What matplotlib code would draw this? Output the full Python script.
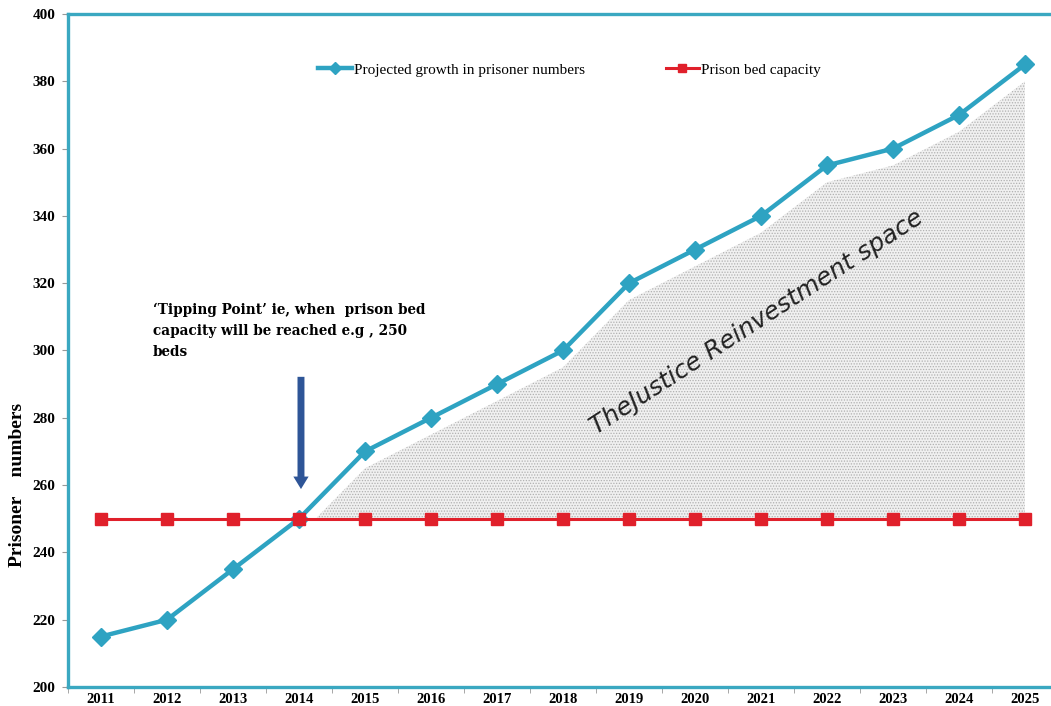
import matplotlib
matplotlib.use("Agg")
import matplotlib.pyplot as plt
import numpy as np

years = ["2011", "2012", "2013", "2014", "2015", "2016", "2017", "2018",
         "2019", "2020", "2021", "2022", "2023", "2024", "2025"]
projected = [215, 220, 235, 250, 270, 280, 290, 300, 320, 330, 340, 355, 360, 370, 385]
capacity = [250] * 15
y_ticks = [200, 220, 240, 260, 280, 300, 320, 340, 360, 380, 400]

W, H = 1051, 706
fig = plt.figure(figsize=(W / 100, H / 100), dpi=100)
ax = fig.add_axes([68 / W, 1 - 687 / H, (1058 - 68) / W, (687 - 14) / H])

x = np.arange(len(years))
teal = "#2ea3c2"
red = "#e0202b"

# shaded "reinvestment space"
xf = np.linspace(0, len(years) - 1, 600)
yf = np.interp(xf, x, projected) - 5
mask = yf >= 250
plt.rcParams['hatch.linewidth'] = 0.6
ax.fill_between(xf, 250, np.maximum(yf, 250), where=mask, facecolor="#f0f0f0",
                edgecolor="#b0b0b0", hatch="......", linewidth=0, zorder=1)

ax.plot(x, projected, color=teal, lw=3.2, marker="D", ms=9, zorder=3,
        label="Projected growth in prisoner numbers")
ax.plot(x, capacity, color=red, lw=2.2, marker="s", ms=8.5, zorder=3,
        label="Prison bed capacity")

ax.set_xlim(-0.5, len(years) - 0.5)
ax.set_ylim(200, 400)
ax.set_yticks(y_ticks)
ax.set_yticklabels([str(v) for v in y_ticks], fontfamily="Liberation Serif",
                   fontweight="bold", fontsize=11)
ax.set_xticks(x)
ax.set_xticklabels(years, fontfamily="Liberation Serif", fontweight="bold", fontsize=10.5)
ax.set_xticks(np.arange(-0.5, len(years), 1), minor=True)
ax.tick_params(axis="x", which="major", length=0, pad=4)
ax.tick_params(axis="x", which="minor", length=4, color="#999999", direction="out")
ax.tick_params(axis="y", length=4, color="#999999", direction="out", pad=5)

for s in ["left", "bottom", "top", "right"]:
    ax.spines[s].set_color("#3aa8c1")
    ax.spines[s].set_linewidth(2.4)

fig.text(18 / W, 1 - 485 / H, "Prisoner    numbers", rotation=90, ha="center", va="center",
         fontfamily="Liberation Serif", fontweight="bold", fontsize=14)

leg = ax.legend(loc="center left", bbox_to_anchor=(0.253, 0.917), ncol=2, frameon=False,
                prop={"family": "Liberation Serif", "size": 11}, handlelength=2.2,
                handletextpad=0.1, columnspacing=5.3, markerscale=0.7,
                borderaxespad=0, borderpad=0)

fig.text(153 / W, 1 - 303 / H,
         "\u2018Tipping Point\u2019 ie, when  prison bed\ncapacity will be reached e.g , 250\nbeds",
         fontfamily="DejaVu Serif", fontweight="bold", fontsize=9.8,
         ha="left", va="top", linespacing=1.62)

ax.annotate("", xy=(3.03, 258), xytext=(3.03, 293),
            arrowprops=dict(arrowstyle="simple,head_length=0.9,head_width=1.1,tail_width=0.5",
                            color="#2e5597", lw=0), zorder=4)

fig.text(757 / W, 1 - 322 / H, "TheJustice Reinvestment space", rotation=33,
         ha="center", va="center", fontfamily="DejaVu Sans", style="italic",
         fontsize=18, color="#222222", rotation_mode="anchor", zorder=2)

fig.savefig("out.png", dpi=100)
